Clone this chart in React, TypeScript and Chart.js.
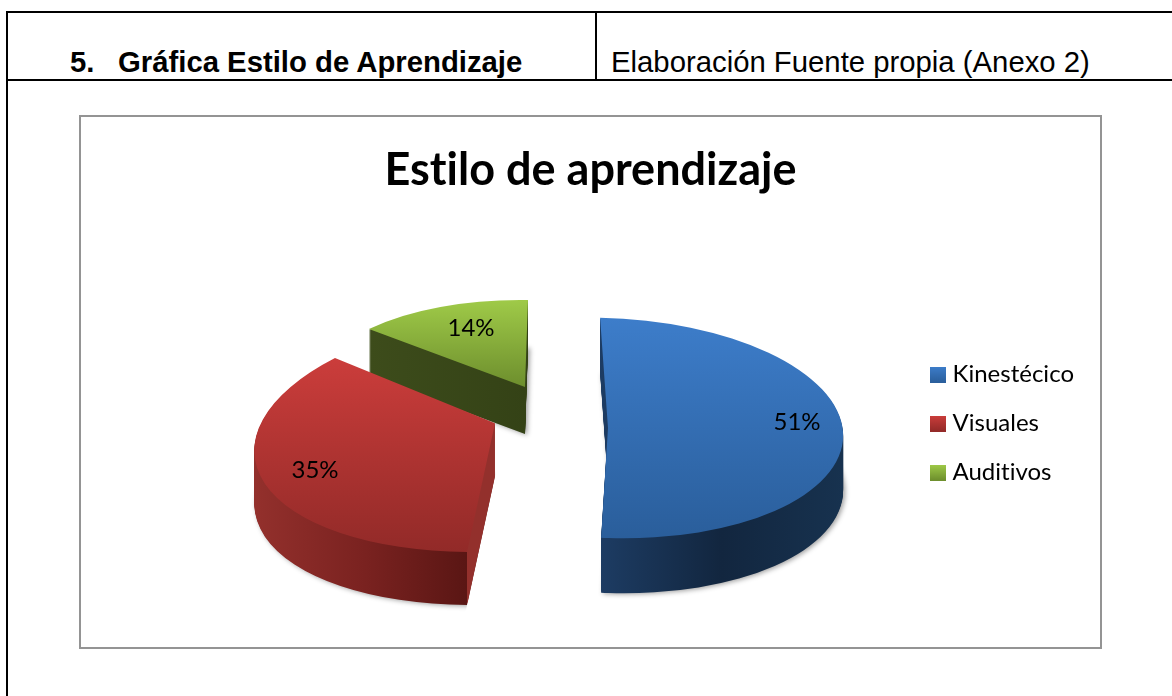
import React, { useEffect, useRef } from "react";
import { Chart, registerables, PieController } from "chart.js";

const CATEGORIES = ["Kinestécico", "Visuales", "Auditivos"];
const VALUES = [51, 35, 14];
const CHART_TITLE = "Estilo de aprendizaje";
const HEADER_LEFT_NUM = "5.";
const HEADER_LEFT = "Gráfica Estilo de Aprendizaje";
const HEADER_RIGHT = "Elaboración Fuente propia (Anexo 2)";

const OX = 79;
const OY = 115;
const W = 1023;
const H = 534;

// per-slice 3D view: affine projection of the unit disc onto the page
const VIEWS = [
  {
    c: [608, 428], m: [235, 7.9, 3.8, 110.2], depth: 55,
    top: ["#3d7dca", "#2a5e9b"], topY: [318, 538],
    wall: [[0, "#1d3c63"], [0.5, "#12263f"], [1, "#17324f"]], wallX: [600, 843],
    label: [189, -6],
  },
  {
    c: [514, 431], m: [257.9, -30.9, -5.3, 120.9], depth: 53,
    top: ["#cb3d3b", "#922a28"], topY: [358, 552],
    wall: [[0, "#93302c"], [0.45, "#7a2220"], [0.871, "#5a1614"], [0.872, "#93302c"], [1, "#93302c"]], wallX: [255, 498],
    label: [-199, 39],
    trim: [[523, 294], [453, 617], [0, 617], [0, 294]],
  },
  {
    c: [525, 387], m: [205, -3, 3.3, 87], depth: 47,
    top: ["#9fca48", "#6d8e2d"], topY: [300, 387],
    wall: [[0, "#3d4c1b"], [1, "#344216"]], wallX: [369, 528],
    label: [-54, -59],
  },
];

function localGradient(ctx: any, A: number, C: number, E: number, from: number, to: number) {
  const n = A * A + C * C;
  const L = to - from;
  const x0 = ((from - E) * A) / n;
  const y0 = ((from - E) * C) / n;
  return ctx.createLinearGradient(x0, y0, x0 + (A * L) / n, y0 + (C * L) / n);
}

class Pie3D extends PieController {
  static id = "pie3d";
  draw() {
    const ctx = this.chart.ctx;
    const arcs: any[] = this.getMeta().data as any[];
    for (let i = arcs.length - 1; i >= 0; i--) {
      const arc = arcs[i];
      const v: any = VIEWS[i];
      const R = arc.outerRadius;
      const A = v.m[0] / R, Cc = v.m[1] / R, B = v.m[2] / R, D = v.m[3] / R;
      const E = v.c[0] - OX - A * arc.x - Cc * arc.y;
      const F = v.c[1] - OY - B * arc.x - D * arc.y;
      const saved = arc.options;
      const paint = (k: number, fill: any, shadow: boolean) => {
        ctx.save();
        ctx.translate(0, k);
        if (v.trim) {
          ctx.beginPath();
          v.trim.forEach((p: number[], j: number) => {
            if (j === 0) ctx.moveTo(p[0] - OX, p[1] - OY);
            else ctx.lineTo(p[0] - OX, p[1] - OY);
          });
          ctx.closePath();
          ctx.clip();
        }
        if (shadow) {
          ctx.shadowColor = "rgba(0,0,0,0.38)";
          ctx.shadowBlur = 5;
          ctx.shadowOffsetX = 2;
          ctx.shadowOffsetY = 1;
        }
        ctx.transform(A, B, Cc, D, E, F);
        arc.options = { ...saved, backgroundColor: fill, borderWidth: 0 };
        arc.draw(ctx);
        ctx.restore();
      };
      const wall = localGradient(ctx, A, Cc, E, v.wallX[0] - OX, v.wallX[1] - OX);
      (v.wall as any[]).forEach((s) => wall.addColorStop(s[0], s[1]));
      for (let k = v.depth; k >= 1; k--) paint(k, wall, k === v.depth);
      const top = localGradient(ctx, B, D, F, v.topY[0] - OY, v.topY[1] - OY);
      top.addColorStop(0, v.top[0]);
      top.addColorStop(1, v.top[1]);
      paint(0, top, false);
      arc.options = saved;
    }
  }
}

Chart.register(...registerables, Pie3D as any);

function swatch(i: number) {
  const cv = document.createElement("canvas");
  cv.width = 16;
  cv.height = 16;
  const g = cv.getContext("2d")!;
  const gr = g.createLinearGradient(0, 0, 0, 16);
  gr.addColorStop(0, VIEWS[i].top[0]);
  gr.addColorStop(1, VIEWS[i].top[1]);
  g.fillStyle = gr;
  g.fillRect(0, 0, 16, 16);
  return cv;
}

// a tiny letter spacing turns off Lato's "ti" ligature
const noLigatures = {
  id: "noLigatures",
  beforeLayout(chart: any) {
    chart.ctx.letterSpacing = "0.01px";
  },
  beforeDraw(chart: any) {
    chart.ctx.letterSpacing = "0.01px";
  },
};

const labelPlugin = {
  id: "sliceLabels",
  afterDatasetsDraw(chart: any) {
    const ctx = chart.ctx;
    ctx.save();
    ctx.fillStyle = "#000";
    ctx.font = "24px Lato";
    ctx.textAlign = "center";
    ctx.textBaseline = "middle";
    VALUES.forEach((val, i) => {
      const v = VIEWS[i];
      ctx.fillText(`${val}%`, v.c[0] + v.label[0] - OX, v.c[1] + v.label[1] - OY);
    });
    ctx.restore();
  },
};

const lineStyle: React.CSSProperties = { position: "absolute", background: "#000" };
const textStyle: React.CSSProperties = {
  position: "absolute",
  fontFamily: "'Liberation Sans', Arial, sans-serif",
  color: "#000",
  whiteSpace: "nowrap",
  lineHeight: "32px",
};

export default function App() {
  const ref = useRef<HTMLCanvasElement>(null);
  useEffect(() => {
    const chart = new Chart(ref.current!, {
      type: "pie3d" as any,
      data: {
        labels: CATEGORIES,
        datasets: [{ data: VALUES, backgroundColor: VIEWS.map((v) => v.top[0]), borderWidth: 0 }],
      },
      options: {
        animation: false,
        responsive: false,
        maintainAspectRatio: false,
        events: [],
        layout: { padding: { left: 18, right: 18, bottom: 0 } },
        plugins: {
          tooltip: { enabled: false },
          title: {
            display: true,
            text: CHART_TITLE,
            color: "#000",
            font: { family: "Lato", size: 45, weight: "bold" },
            padding: { top: 28, bottom: 1 },
          },
          legend: {
            display: true,
            position: "right",
            fullSize: false,
            labels: {
              color: "#000",
              font: { family: "Lato", size: 24 },
              usePointStyle: true,
              boxWidth: 5,
              boxHeight: 16,
              padding: 25,
              generateLabels: () =>
                CATEGORIES.map((text, i) => ({
                  text,
                  pointStyle: swatch(i),
                  fillStyle: VIEWS[i].top[0],
                  strokeStyle: "transparent",
                  lineWidth: 0,
                  hidden: false,
                  index: i,
                  fontColor: "#000",
                })),
            },
          },
        },
      } as any,
      plugins: [noLigatures, labelPlugin],
    });
    return () => chart.destroy();
  }, []);
  return (
    <div style={{ position: "absolute", left: 0, top: 0, width: 1172, height: 696, overflow: "hidden", background: "#fff" }}>
      <div style={{ ...lineStyle, left: 6, top: 11, width: 1166, height: 2 }} />
      <div style={{ ...lineStyle, left: 6, top: 79, width: 1166, height: 2 }} />
      <div style={{ ...lineStyle, left: 6, top: 11, width: 2, height: 685 }} />
      <div style={{ ...lineStyle, left: 595, top: 11, width: 2, height: 70 }} />
      <span style={{ ...textStyle, left: 70, top: 46, fontSize: 29.3, fontWeight: "bold" }}>{HEADER_LEFT_NUM}</span>
      <span style={{ ...textStyle, left: 118, top: 46, fontSize: 29.3, fontWeight: "bold" }}>{HEADER_LEFT}</span>
      <span style={{ ...textStyle, left: 611, top: 46, fontSize: 29.3 }}>{HEADER_RIGHT}</span>
      <div style={{ position: "absolute", left: OX, top: OY, width: W - 4, height: H - 4, border: "2px solid #949494", boxSizing: "content-box" }} />
      <canvas ref={ref} width={W} height={H} style={{ position: "absolute", left: OX, top: OY, width: W, height: H }} />
    </div>
  );
}
